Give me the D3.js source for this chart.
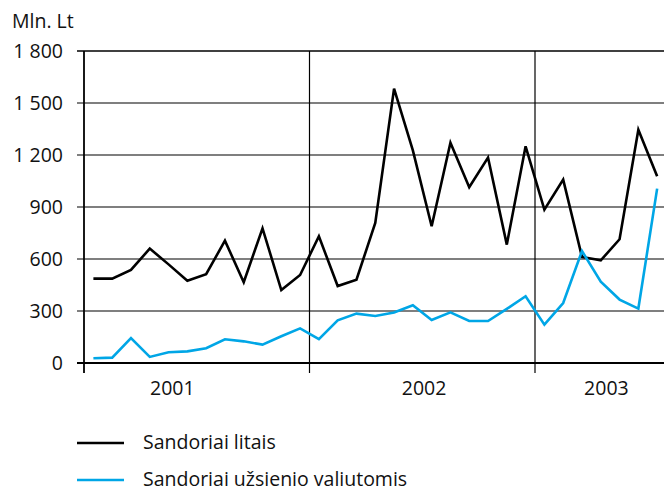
<!DOCTYPE html>
<html>
<head>
<meta charset="utf-8">
<script src="https://cdn.jsdelivr.net/npm/d3@7"></script>
<style>
  body { margin: 0; background: #fff; }
  svg { display: block; font-family: "Open Sans", Lato, sans-serif; }
</style>
</head>
<body>
<svg id="chart"></svg>
<script>
// monthly values, Jan 2001 .. Jul 2003
const litais = [487, 487, 537, 660, 569, 475, 512, 706, 466, 777, 421, 508,
                731, 444, 481, 808, 1583, 1227, 789, 1271, 1014, 1185, 683, 1250,
                885, 1058, 612, 592, 714, 1346, 1077];
const valiutomis = [27, 31, 144, 35, 62, 67, 85, 137, 125, 106, 154, 200,
                    138, 246, 285, 271, 291, 333, 248, 292, 242, 242, 312, 385,
                    221, 346, 646, 469, 366, 314, 1006];
const years = ["2001", "2002", "2003"];
const yearLabelAt = [4.7, 18.1, 27.8]; // in months from Jan 2001
const yearStarts = [0, 12, 24];
const yTicks = [0, 300, 600, 900, 1200, 1500, 1800];
const seriesNames = ["Sandoriai litais", "Sandoriai užsienio valiutomis"];
const seriesColors = ["#000000", "#00a6e6"];

const width = 664, height = 492;
const fontSize = 19.5;
const svg = d3.select("#chart").attr("width", width).attr("height", height);

const x = d3.scaleLinear().domain([0, 24]).range([84, 535]);
const y = d3.scaleLinear().domain([0, 1800]).range([363, 51]);

const fmt = d3.formatLocale({decimal: ",", thousands: " ", grouping: [3], currency: ["", ""]}).format(",d");

// horizontal grid
svg.append("g")
  .selectAll("line")
  .data(yTicks)
  .join("line")
    .attr("x1", 77)
    .attr("x2", width)
    .attr("y1", d => y(d))
    .attr("y2", d => y(d))
    .attr("stroke", d => (d === 0 || d === 1800) ? "#000" : "#555")
    .attr("stroke-width", d => d === 0 ? 1.8 : 1.3);

// y labels
svg.append("g")
  .selectAll("text")
  .data(yTicks)
  .join("text")
    .attr("x", 63)
    .attr("y", d => y(d))
    .attr("dy", "0.36em")
    .attr("text-anchor", "end")
    .attr("font-size", fontSize)
    .attr("fill", "#111")
    .text(d => fmt(d));

svg.append("text")
  .attr("x", 12)
  .attr("y", 28)
  .attr("font-size", fontSize)
  .attr("fill", "#111")
  .text("Mln. Lt");

// year separators
svg.append("g")
  .selectAll("line")
  .data(yearStarts)
  .join("line")
    .attr("x1", d => x(d))
    .attr("x2", d => x(d))
    .attr("y1", y(1800))
    .attr("y2", 373)
    .attr("stroke", "#000")
    .attr("stroke-width", d => d === 0 ? 1.8 : 1.2);

// year labels
svg.append("g")
  .selectAll("text")
  .data(years)
  .join("text")
    .attr("x", (d, i) => x(yearLabelAt[i]))
    .attr("y", 395)
    .attr("text-anchor", "middle")
    .attr("font-size", fontSize)
    .attr("fill", "#111")
    .text(d => d);

// lines
const line = d3.line()
  .x((d, i) => x(i + 0.5))
  .y(d => y(d));

svg.append("g")
  .selectAll("path")
  .data([litais, valiutomis])
  .join("path")
    .attr("d", line)
    .attr("fill", "none")
    .attr("stroke", (d, i) => seriesColors[i])
    .attr("stroke-width", 2.6)
    .attr("stroke-linejoin", "miter");

// legend
const legend = svg.append("g")
  .selectAll("g")
  .data(seriesNames)
  .join("g")
    .attr("transform", (d, i) => `translate(77,${443 + i * 37})`);

legend.append("line")
  .attr("x2", 47)
  .attr("stroke", (d, i) => seriesColors[i])
  .attr("stroke-width", 2.6);

legend.append("text")
  .attr("x", 66)
  .attr("dy", "0.3em")
  .attr("font-size", fontSize)
  .attr("fill", "#111")
  .text(d => d);
</script>
</body>
</html>
